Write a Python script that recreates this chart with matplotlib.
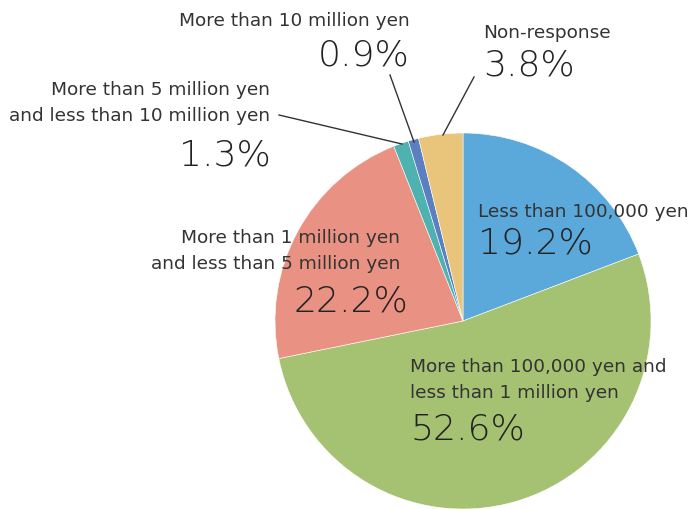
import matplotlib
matplotlib.use("Agg")
import matplotlib.pyplot as plt

categories = [
    "Less than 100,000 yen",
    "More than 100,000 yen and\nless than 1 million yen",
    "More than 1 million yen\nand less than 5 million yen",
    "More than 5 million yen\nand less than 10 million yen",
    "More than 10 million yen",
    "Non-response",
]
values = [19.2, 52.6, 22.2, 1.3, 0.9, 3.8]
pct_labels = ["19.2%", "52.6%", "22.2%", "1.3%", "0.9%", "3.8%"]
colors = ["#5BA8DB", "#A5C172", "#E99283", "#4EB2B0", "#5B7FC0", "#E8C57A"]

W, H = 692, 510
fig = plt.figure(figsize=(W / 100, H / 100), dpi=100)
ax = fig.add_axes([0, 0, 1, 1])

def py(y):
    return H - y

ax.pie(values, colors=colors, startangle=90, counterclock=False,
       center=(463, py(322)), radius=188,
       wedgeprops=dict(linewidth=0.4, edgecolor="white"))
ax.set_xlim(0, W)
ax.set_ylim(0, H)
ax.set_aspect("equal")
ax.axis("off")

lab_kw = dict(fontsize=13.3, color="#333333", family="DejaVu Sans", linespacing=1.58)
pct_kw = dict(fontsize=26, color="#222222", family="DejaVu Sans", fontweight=200)

# (label x, label y, ha, pct x, pct y)
layout = [
    (478, 212, "left", 478, 243),
    (410, 380, "left", 410, 430),
    (400, 251, "right", 408, 302),
    (270, 103, "right", 271, 156),
    (410, 21, "right", 410, 56),
    (483, 33, "left", 483, 66),
]
for (lx, ly, ha, px, pyy), cat, pl in zip(layout, categories, pct_labels):
    ax.text(lx, py(ly), cat, ha=ha, va="center", **lab_kw)
    ax.text(px, py(pyy), pl, ha=ha, va="center", **pct_kw)

# leader lines
leaders = [
    ((279, 116), (402, 145)),
    ((390, 76), (414, 143)),
    ((474, 78), (443, 136)),
]
for (x0, y0), (x1, y1) in leaders:
    ax.plot([x0, x1], [py(y0), py(y1)], color="#333333", linewidth=1)

fig.savefig("out.png", dpi=100)
